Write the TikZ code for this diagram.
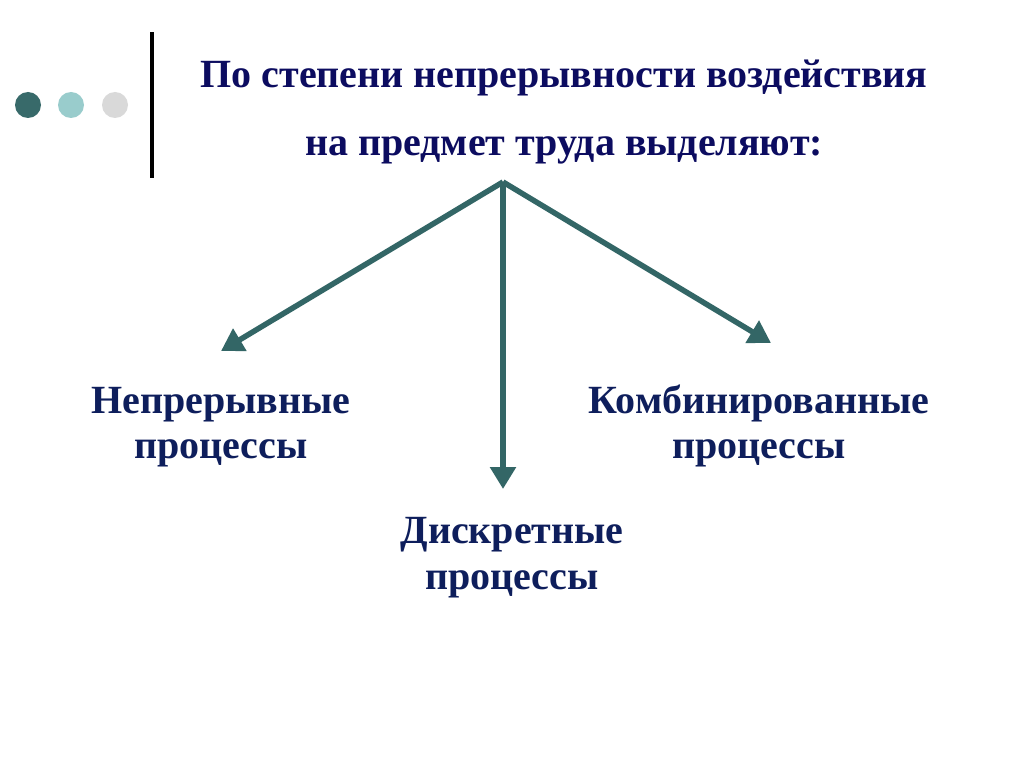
\documentclass[tikz,border=0pt]{standalone}
\usepackage{fontspec}
\setmainfont{Liberation Serif}
\usetikzlibrary{arrows.meta}
\definecolor{arrowc}{RGB}{51,102,102}
\definecolor{dotdark}{RGB}{56,106,106}
\definecolor{dotlight}{RGB}{153,204,204}
\definecolor{dotgray}{RGB}{217,217,217}
\definecolor{titlec}{RGB}{12,12,96}
\definecolor{labelc}{RGB}{14,30,92}
\begin{document}
\begin{tikzpicture}[x=1pt,y=-1pt,
  conn/.style={draw=arrowc,line width=5.5pt,-{Triangle[length=22pt,width=25pt]}},
  lbl/.style={text=labelc,font=\fontsize{40}{44}\selectfont\bfseries,align=center,inner sep=0pt},
  ttl/.style={text=titlec,font=\fontsize{40}{66}\selectfont\bfseries,align=center,inner sep=0pt},
  dot/.style={circle,minimum size=26pt,inner sep=0pt}]
\useasboundingbox[fill=white] (0,0) rectangle (1024,767);
\node[dot,fill=dotdark] (d1) at (28,105) {};
\node[dot,fill=dotlight] (d2) at (71,105) {};
\node[dot,fill=dotgray] (d3) at (115,105) {};
\fill[black] (150,32) rectangle (154,178);
\node[ttl,anchor=base] (t1) at (564,88) {По степени непрерывности воздействия};
\node[ttl,anchor=base] (t2) at (564,156) {на предмет труда выделяют:};
\coordinate (root) at (503,182);
\coordinate (tl) at (221,351);
\coordinate (tr) at (771,343);
\coordinate (td) at (503,489);
\draw[conn] (root) -- (tl);
\draw[conn] (root) -- (tr);
\draw[conn] (root) -- (td);
\node[lbl,anchor=base] (l1a) at (221,413) {Непрерывные};
\node[lbl,anchor=base] (l1b) at (221,458) {процессы};
\node[lbl,anchor=base] (l2a) at (759,413) {Комбинированные};
\node[lbl,anchor=base] (l2b) at (759,458) {процессы};
\node[lbl,anchor=base] (l3a) at (512,543) {Дискретные};
\node[lbl,anchor=base] (l3b) at (512,589) {процессы};
\end{tikzpicture}
\end{document}
